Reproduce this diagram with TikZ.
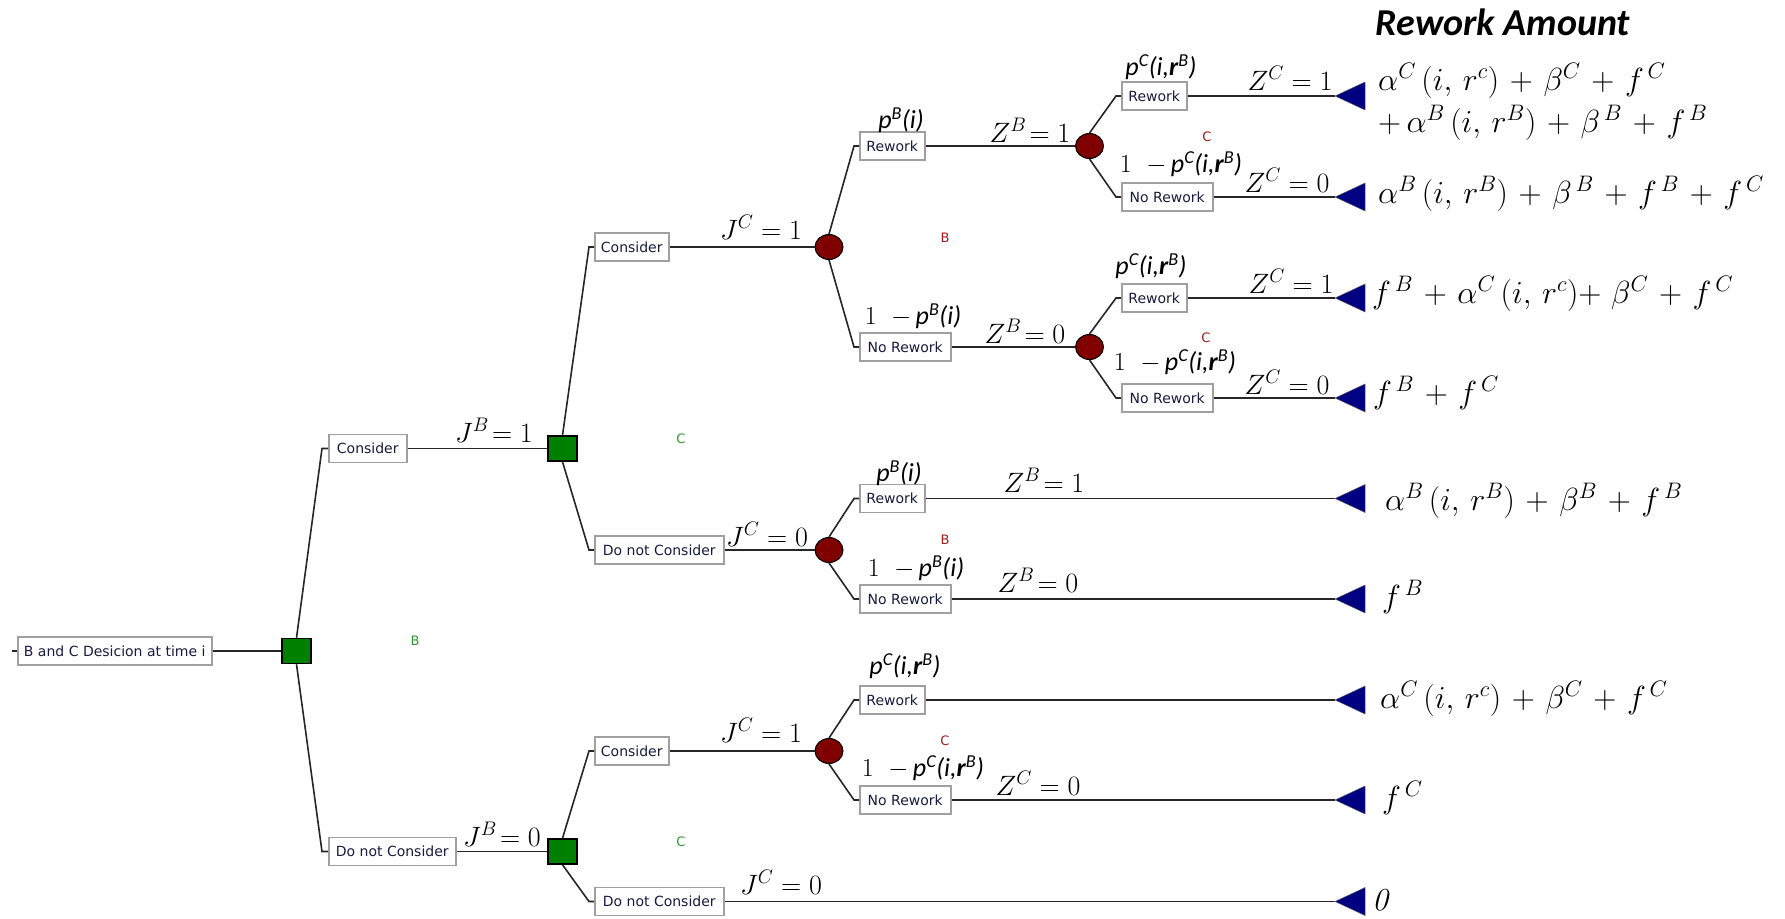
\RequirePackage{fix-cm}
\documentclass[tikz,border=0pt]{standalone}
\usepackage{fontspec}
\newfontfamily\boxfont{DejaVu Sans}
\newfontfamily\carl{Carlito}
\usetikzlibrary{shapes.geometric}
\definecolor{dgreen}{HTML}{008000}
\definecolor{maroonc}{HTML}{800000}
\definecolor{navyc}{HTML}{000080}
\definecolor{boxtext}{HTML}{1A1A40}
\definecolor{boxline}{HTML}{A0A0A0}
\definecolor{lgreen}{HTML}{2E9B2E}
\definecolor{lred}{HTML}{A01C1C}
\newcommand{\wideops}{\medmuskip=6mu plus 2mu minus 2mu\relax}
\begin{document}
\begin{tikzpicture}[x=1pt,y=-1pt,
  optbox/.style={draw=boxline, line width=1.5pt, fill=white, anchor=west,
    font=\boxfont\fontsize{14}{17}\selectfont, text=boxtext,
    minimum height=28pt, inner sep=0pt},
  rw/.style={optbox, minimum width=65pt},
  nrw/.style={optbox, minimum width=91pt},
  decsq/.style={draw=black, line width=1.5pt, fill=dgreen,
    minimum width=29pt, minimum height=25pt, inner sep=0pt},
  chance/.style={ellipse, draw=black, line width=1pt, fill=maroonc,
    minimum width=28pt, minimum height=25pt, inner sep=0pt},
  conn/.style={draw=black!85, line width=1.6pt},
  term/.style={fill=navyc, draw=black!60, line width=0.5pt},
  lab/.style={inner sep=0pt, anchor=base, font=\fontsize{28}{32}\selectfont},
  plab/.style={inner sep=0pt, anchor=south, font=\fontsize{26}{30}\selectfont},
  outc/.style={inner sep=0pt, anchor=base west, font=\fontsize{32}{36}\selectfont\wideops},
  gl/.style={inner sep=0pt, text=lgreen, font=\boxfont\fontsize{13}{15}\selectfont},
  rl/.style={inner sep=0pt, text=lred, font=\boxfont\fontsize{13}{15}\selectfont}
]
\useasboundingbox (0,0) rectangle (1785,918);

% decision and chance nodes
\node[optbox, minimum width=194pt] (root) at (17,651) {B and C Desicion at time i};
\node[decsq] (s1) at (296.5,651) {};
\node[optbox, minimum width=78pt] (c1) at (328,448.5) {Consider};
\node[optbox, minimum width=127pt] (d1) at (328,851.5) {Do not Consider};
\node[decsq] (s2) at (562.5,448.5) {};
\node[decsq] (s3) at (562.5,851.5) {};
\node[optbox, minimum width=74pt] (c2) at (594,247) {Consider};
\node[optbox, minimum width=129pt] (d2) at (594,550) {Do not Consider};
\node[optbox, minimum width=74pt] (c3) at (594,751) {Consider};
\node[optbox, minimum width=129pt] (d3) at (594,901.5) {Do not Consider};
\node[chance] (h1) at (829,247) {};
\node[chance] (h2) at (829,550) {};
\node[chance] (h3) at (829,751) {};
\node[rw] (r1) at (859,146) {Rework};
\node[nrw] (n1) at (859,347) {No Rework};
\node[rw] (r2) at (859,498.5) {Rework};
\node[nrw] (n2) at (859,599) {No Rework};
\node[rw] (r3) at (859,700) {Rework};
\node[nrw] (n3) at (859,800) {No Rework};
\node[chance] (h4) at (1089.5,146) {};
\node[chance] (h5) at (1089.5,347) {};
\node[rw] (r4) at (1121,96) {Rework};
\node[nrw] (n4) at (1121,197) {No Rework};
\node[rw] (r5) at (1121,298) {Rework};
\node[nrw] (n5) at (1121,398) {No Rework};

% terminal points
\coordinate (t1) at (1335,96);
\coordinate (t2) at (1335,197);
\coordinate (t3) at (1335,298);
\coordinate (t4) at (1335,398);
\coordinate (t5) at (1335,498.5);
\coordinate (t6) at (1335,599);
\coordinate (t7) at (1335,700);
\coordinate (t8) at (1335,800);
\coordinate (t9) at (1335,901.5);

% connectors
\draw[conn] (root.west) -- ++(-5,0);
\draw[conn] (root.east) -- (s1.west);
\draw[conn] (s1.north) -- ([xshift=-6pt]c1.west) -- (c1.west);
\draw[conn] (s1.south) -- ([xshift=-6pt]d1.west) -- (d1.west);
\draw[conn] (c1.east) -- (s2.west);
\draw[conn] (d1.east) -- (s3.west);
\draw[conn] (s2.north) -- ([xshift=-5pt]c2.west) -- (c2.west);
\draw[conn] (s2.south) -- ([xshift=-5pt]d2.west) -- (d2.west);
\draw[conn] (s3.north) -- ([xshift=-5pt]c3.west) -- (c3.west);
\draw[conn] (s3.south) -- ([xshift=-5pt]d3.west) -- (d3.west);
\draw[conn] (c2.east) -- (h1.west);
\draw[conn] (d2.east) -- (h2.west);
\draw[conn] (c3.east) -- (h3.west);
\draw[conn] (d3.east) -- (t9);
\draw[conn] (h1.north) -- ([xshift=-5pt]r1.west) -- (r1.west);
\draw[conn] (h1.south) -- ([xshift=-5pt]n1.west) -- (n1.west);
\draw[conn] (h2.north) -- ([xshift=-5pt]r2.west) -- (r2.west);
\draw[conn] (h2.south) -- ([xshift=-5pt]n2.west) -- (n2.west);
\draw[conn] (h3.north) -- ([xshift=-5pt]r3.west) -- (r3.west);
\draw[conn] (h3.south) -- ([xshift=-5pt]n3.west) -- (n3.west);
\draw[conn] (r1.east) -- (h4.west);
\draw[conn] (n1.east) -- (h5.west);
\draw[conn] (h4.north) -- ([xshift=-5pt]r4.west) -- (r4.west);
\draw[conn] (h4.south) -- ([xshift=-5pt]n4.west) -- (n4.west);
\draw[conn] (h5.north) -- ([xshift=-5pt]r5.west) -- (r5.west);
\draw[conn] (h5.south) -- ([xshift=-5pt]n5.west) -- (n5.west);
\draw[conn] (r4.east) -- (t1);
\draw[conn] (n4.east) -- (t2);
\draw[conn] (r5.east) -- (t3);
\draw[conn] (n5.east) -- (t4);
\draw[conn] (r2.east) -- (t5);
\draw[conn] (n2.east) -- (t6);
\draw[conn] (r3.east) -- (t7);
\draw[conn] (n3.east) -- (t8);

\foreach \t in {t1,t2,t3,t4,t5,t6,t7,t8,t9}
  \filldraw[term] (\t) -- ++(30,-14) -- ++(0,28) -- cycle;

% branch value labels
\node[lab] (lj1) at (494,442) {$J^{B}\!= 1$};
\node[lab] (lj2) at (502,846) {$J^{B}\!= 0$};
\node[lab] (lj3) at (761,239) {$J^{C} = 1$};
\node[lab] (lj4) at (767,546) {$J^{C} = 0$};
\node[lab] (lj5) at (761,742) {$J^{C} = 1$};
\node[lab] (lj6) at (781,894) {$J^{C} = 0$};
\node[lab] (lz1) at (1030,142) {$Z^{B}\!= 1$};
\node[lab] (lz2) at (1025,343) {$Z^{B}\!= 0$};
\node[lab] (lz3) at (1290,90) {$Z^{C} = 1$};
\node[lab] (lz4) at (1287,192) {$Z^{C} = 0$};
\node[lab] (lz5) at (1291,293) {$Z^{C} = 1$};
\node[lab] (lz6) at (1287,394) {$Z^{C} = 0$};
\node[lab] (lz7) at (1044,492) {$Z^{B}\!= 1$};
\node[lab] (lz8) at (1038,592) {$Z^{B}\!= 0$};
\node[lab] (lz9) at (1038,795) {$Z^{C} = 0$};

% probability labels
\node[plab] (p1) at (901,133) {{\carl\itshape p\textsuperscript{B}(i)}};
\node[plab] (p2) at (913,329) {$1\;\;-$\,{\carl\itshape p\textsuperscript{B}(i)}};
\node[plab] (p3) at (1161,80) {{\carl\itshape p\textsuperscript{C}(i,\textbf{r}\textsuperscript{B})}};
\node[plab] (p4) at (1181,177) {$1\;\;-$\,{\carl\itshape p\textsuperscript{C}(i,\textbf{r}\textsuperscript{B})}};
\node[plab] (p5) at (1151,279) {{\carl\itshape p\textsuperscript{C}(i,\textbf{r}\textsuperscript{B})}};
\node[plab] (p6) at (1175,375) {$1\;\;-$\,{\carl\itshape p\textsuperscript{C}(i,\textbf{r}\textsuperscript{B})}};
\node[plab] (p7) at (899,486) {{\carl\itshape p\textsuperscript{B}(i)}};
\node[plab] (p8) at (916,581) {$1\;\;-$\,{\carl\itshape p\textsuperscript{B}(i)}};
\node[plab] (p9) at (905,679) {{\carl\itshape p\textsuperscript{C}(i,\textbf{r}\textsuperscript{B})}};
\node[plab] (p10) at (923,781) {$1\;\;-$\,{\carl\itshape p\textsuperscript{C}(i,\textbf{r}\textsuperscript{B})}};

% outcome values
\node[inner sep=0pt, anchor=base, font=\carl\bfseries\itshape\fontsize{38}{42}\selectfont] (title) at (1503,35) {Rework Amount};
\node[outc] (o1a) at (1378,90) {$\alpha^{C}\,(i,\,r^{c}) + \beta^{C} + f^{\,C}$};
\node[outc] (o1b) at (1378,132) {$+\,\alpha^{B}\,(i,\,r^{B}) + \beta^{\,B} + f^{\,B}$};
\node[outc] (o2) at (1378,203) {$\alpha^{B}\,(i,\,r^{B}) + \beta^{\,B} + f^{\,B} + f^{\,C}$};
\node[outc] (o3) at (1372,303) {$f^{\,B} + \alpha^{C}\,(i,\,r^{c}){+}\ \beta^{C} + f^{\,C}$};
\node[outc] (o4) at (1373,403) {$f^{\,B} + f^{\,C}$};
\node[outc] (o5) at (1385,510) {$\alpha^{B}\,(i,\,r^{B}) + \beta^{B} + f^{\,B}$};
\node[outc] (o6) at (1382,607) {$f^{\,B}$};
\node[outc] (o7) at (1380,708) {$\alpha^{C}\,(i,\,r^{c}) + \beta^{C} + f^{\,C}$};
\node[outc] (o8) at (1382,808) {$f^{\,C}$};
\node[outc] (o9) at (1372,910) {$\mathit{0}$};

% small branch-group letters
\node[gl] (g1) at (681,439) {C};
\node[gl] (g2) at (415,641) {B};
\node[gl] (g3) at (681,842) {C};
\node[rl] (e1) at (945,238) {B};
\node[rl] (e2) at (1207,137) {C};
\node[rl] (e3) at (1206,338) {C};
\node[rl] (e4) at (945,540) {B};
\node[rl] (e5) at (945,741) {C};
\end{tikzpicture}
\end{document}
